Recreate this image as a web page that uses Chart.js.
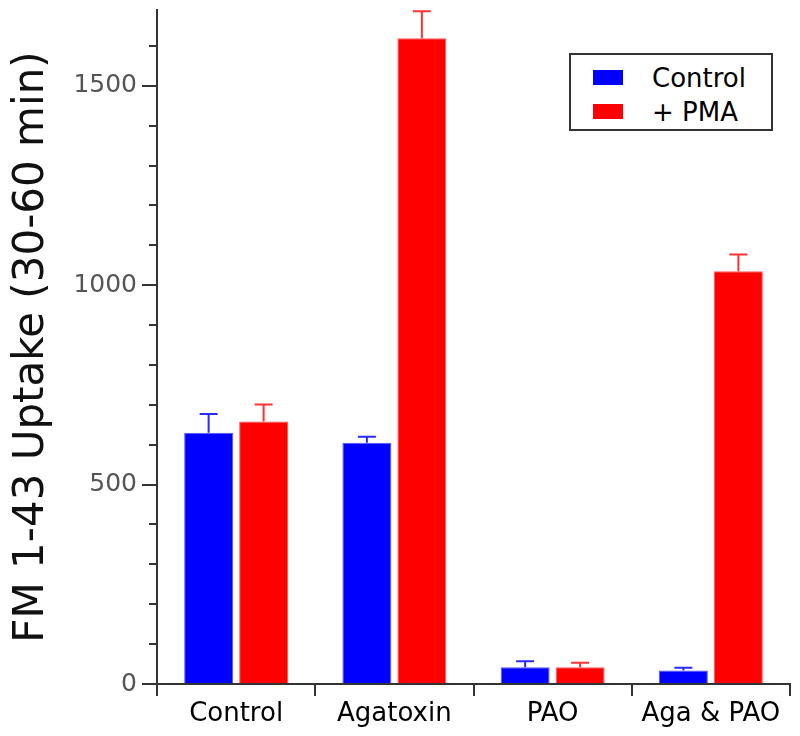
<!DOCTYPE html>
<html>
<head>
<meta charset="utf-8">
<script src="https://cdn.jsdelivr.net/npm/chart.js@4"></script>
<style>
  html, body { margin: 0; padding: 0; background: #fff; }
  #wrap { position: relative; width: 800px; height: 736px; }
  #legend {
    position: absolute; left: 569px; top: 53px; width: 200px; height: 74px;
    border: 2px solid #333; background: #fff;
    font-family: "DejaVu Sans", sans-serif; font-size: 26px; color: #000;
  }
  .row { position: absolute; left: 22px; height: 30px; line-height: 30px; }
  .sw { position: absolute; left: 0; top: 7px; width: 30px; height: 15px; }
  .lbl { position: absolute; left: 59px; top: 0; white-space: nowrap; }
</style>
</head>
<body>
<div id="wrap">
  <canvas id="grafico" width="800" height="736"></canvas>
  <div id="legend">
    <div class="row" style="top:8px"><span class="sw" style="background:#0000ff"></span><span class="lbl">Control</span></div>
    <div class="row" style="top:42px"><span class="sw" style="background:#ff0000"></span><span class="lbl">+ PMA</span></div>
  </div>
</div>
<script>
const categorias = ['Control', 'Agatoxin', 'PAO', 'Aga & PAO'];
const valoresControl = [630, 605, 42, 34];
const erroresControl = [47, 15, 15, 7];
const valoresPMA = [658, 1619, 42, 1035];
const erroresPMA = [43, 68, 11, 42];
const ticksY = [0, 500, 1000, 1500];

// barras de error (solo hacia arriba)
const barrasError = {
  id: 'barrasError',
  afterDatasetsDraw(chart) {
    const ctx = chart.ctx;
    const y = chart.scales.y;
    chart.data.datasets.forEach((ds, i) => {
      const meta = chart.getDatasetMeta(i);
      meta.data.forEach((bar, j) => {
        const top = y.getPixelForValue(ds.data[j] + ds.errores[j]);
        ctx.save();
        ctx.strokeStyle = ds.colorError;
        ctx.lineWidth = 2;
        ctx.beginPath();
        ctx.moveTo(bar.x, bar.y);
        ctx.lineTo(bar.x, top);
        ctx.moveTo(bar.x - 9, top);
        ctx.lineTo(bar.x + 9, top);
        ctx.stroke();
        ctx.restore();
      });
    });
  }
};

// marcas menores del eje y cada 100
const marcasMenores = {
  id: 'marcasMenores',
  afterDraw(chart) {
    const ctx = chart.ctx;
    const y = chart.scales.y;
    const x0 = chart.chartArea.left;
    ctx.save();
    ctx.strokeStyle = '#333';
    ctx.lineWidth = 2;
    for (let v = 100; v <= y.max; v += 100) {
      if (v % 500 === 0) continue;
      const py = Math.round(y.getPixelForValue(v));
      ctx.beginPath();
      ctx.moveTo(x0 - 8, py);
      ctx.lineTo(x0, py);
      ctx.stroke();
    }
    ctx.restore();
  }
};

const ctx = document.getElementById('grafico').getContext('2d');
new Chart(ctx, {
  type: 'bar',
  data: {
    labels: categorias,
    datasets: [
      {
        label: 'Control',
        data: valoresControl,
        errores: erroresControl,
        backgroundColor: '#0000ff',
        borderColor: '#5555ff',
        borderWidth: 1,
        colorError: '#2a2aff'
      },
      {
        label: '+ PMA',
        data: valoresPMA,
        errores: erroresPMA,
        backgroundColor: '#ff0000',
        borderColor: '#ff5555',
        borderWidth: 1,
        colorError: '#ff3333'
      }
    ]
  },
  options: {
    responsive: false,
    animation: false,
    layout: { padding: { top: 10, right: 10, left: 0, bottom: 0 } },
    categoryPercentage: 0.695,
    barPercentage: 0.89,
    plugins: {
      legend: { display: false },
      tooltip: { enabled: false }
    },
    scales: {
      x: {
        grid: { display: true, drawOnChartArea: false, offset: true, tickLength: 12, color: '#333', lineWidth: 2 },
        border: { display: true, color: '#333', width: 2 },
        ticks: {
          color: '#000',
          padding: 3,
          font: { family: 'DejaVu Sans', size: 26 }
        },
        afterFit(scale) { scale.height = 52; }
      },
      y: {
        min: 0,
        max: 1690,
        grid: { display: true, drawOnChartArea: false, tickLength: 15, color: '#333', lineWidth: 2 },
        border: { display: true, color: '#333', width: 2 },
        ticks: {
          stepSize: 500,
          color: '#555',
          padding: 5,
          font: { family: 'DejaVu Sans', size: 25 },
          callback: v => String(v)
        },
        afterBuildTicks(scale) {
          scale.ticks = ticksY.map(v => ({ value: v }));
        },
        title: {
          display: true,
          text: 'FM 1-43 Uptake (30-60 min)',
          color: '#111',
          padding: { top: 7, bottom: 0 },
          font: { family: 'DejaVu Sans', size: 42 }
        },
        afterFit(scale) {
          scale.width = 157;
          scale.paddingTop = 0;
          scale.paddingBottom = 0;
        }
      }
    }
  },
  plugins: [barrasError, marcasMenores]
});
</script>
</body>
</html>
